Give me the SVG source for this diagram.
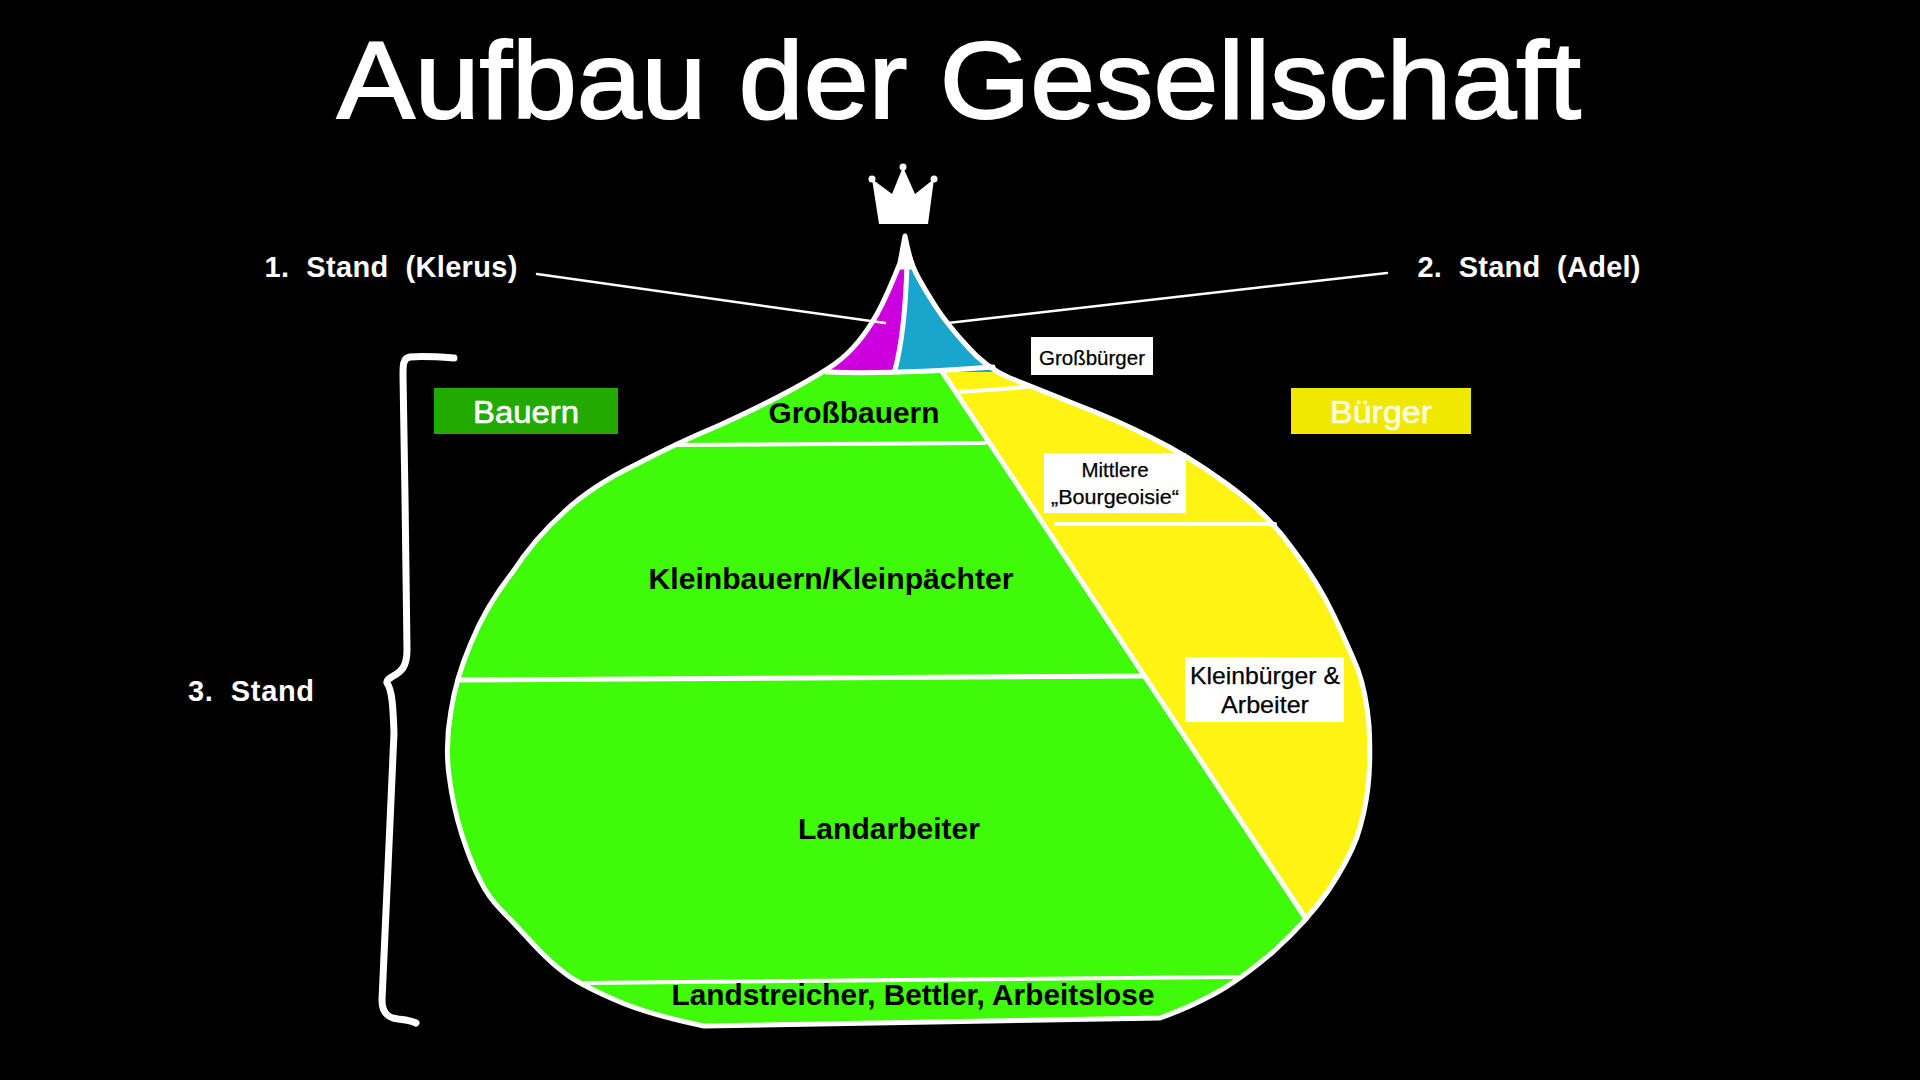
<svg xmlns="http://www.w3.org/2000/svg" width="1920" height="1080" viewBox="0 0 1920 1080">
<style>
text{font-family:"Liberation Sans",Arial,sans-serif;text-anchor:middle}
.w{fill:#fff}
.ln{fill:none;stroke:#fff;stroke-linecap:round;stroke-linejoin:round}
.sec{font-size:29px;font-weight:700;fill:#000}
.side{font-size:29px;font-weight:700;fill:#fff}
.note{fill:#000;stroke:#000;stroke-width:.25}
</style>
<defs>
<path id="outline" d="M905,236 L900,263 Q886,298 877,314 Q868,330 858,342 Q848,354 836,363 Q824,372 793,389 Q762,406 720,425 Q677,443 635,465 Q590,487 563,513 Q535,538 512,573 Q486,606 471,643 Q456,678 451,711 Q445,743 449,775 Q453,807 462,835 Q471,863 480,880 Q488,897 502,911 Q516,925 534,945 Q552,964 566,974 Q579,984 613,999 Q646,1014 704,1026 L1160,1018 Q1188,1008 1214,994 Q1240,980 1274,951 Q1307,921 1328,891 Q1348,861 1357,837 Q1365,813 1368,787 Q1371,760 1369,725 Q1366,692 1358,670 Q1350,650 1334,616 Q1318,582 1292,548 Q1267,513 1227,484 Q1187,455 1152,438 Q1117,420 1075,404 Q1033,387 1010,378 Q986,368 967,346 Q947,324 936,307 Q925,290 918,277 Q910,263 905,236 Z"/>
<clipPath id="inside"><use href="#outline"/></clipPath>
</defs>
<rect width="1920" height="1080" fill="#000"/>
<text id="title" x="959" y="118" class="w" stroke="#fff" stroke-width="2" font-size="109" textLength="1244" lengthAdjust="spacingAndGlyphs">Aufbau der Gesellschaft</text>
<g id="shape" clip-path="url(#inside)">
<rect id="yellow" x="900" y="360" width="500" height="580" fill="#fff313"/>
<path id="green" fill="#3ffb0a" d="M400,372 L943,373 L1307,921 L1307,1040 L400,1040 Z"/>
<path id="magenta" fill="#cc00dd" d="M800,240 L907,240 L907,263 C906,300 903,340 895,372 L800,372 Z"/>
<path id="blue" fill="#1aa5cc" d="M907,240 L1010,240 L1010,372 L895,372 C903,340 906,300 907,263 Z"/>
</g>
<g id="connectors">
<use href="#outline" class="ln" stroke-width="5"/>
<path d="M905,236 L899,268 L911,268 Z" fill="#fff" stroke="#fff" stroke-width="3" stroke-linejoin="round"/>
<path class="ln" stroke-width="5" d="M907,263 C906,300 903,340 895,370"/>
<path class="ln" stroke-width="5" d="M827,372 C880,374 940,371 993,367"/>
<path class="ln" stroke-width="5" d="M943,373 L1306,919"/>
<path class="ln" stroke-width="4" d="M960,392 L1027,387"/>
<path class="ln" stroke-width="4" d="M677,445 L985,443"/>
<path class="ln" stroke-width="5" d="M458,680 L1143,676"/>
<path class="ln" stroke-width="4" d="M1056,524 L1275,524"/>
<path class="ln" stroke-width="4" d="M583,983 L1237,977"/>
<path class="ln" stroke-width="2.5" d="M537,274 L885,323"/>
<path class="ln" stroke-width="2.5" d="M1387,273 L948,323"/>
<path class="ln" stroke-width="7" d="M454,358 C440,357 420,356 410,357 C403,358 403,365 403,375 L405,497 L407,650 C407,668 400,672 395,675 C390,678 386,680 387,683 C392,690 393,705 394,733 L388,867 L382,1000 C382,1015 390,1018 398,1019 C408,1020 412,1021 416,1023"/>
</g>
<g id="crown" fill="#fff">
<path d="M872,179 L879,224 L928,224 L934,179 L915,194 L903,167 L892,194 Z"/>
<circle cx="872" cy="179" r="3.5"/><circle cx="903" cy="167" r="3.5"/><circle cx="934" cy="179" r="3.5"/>
</g>
<g id="stand1"><text x="391" y="277" class="side" textLength="253" lengthAdjust="spacing" xml:space="preserve">1.  Stand  (Klerus)</text></g>
<g id="stand2"><text x="1529" y="277" class="side" textLength="223" lengthAdjust="spacing" xml:space="preserve">2.  Stand  (Adel)</text></g>
<g id="stand3"><text x="251" y="701" class="side" textLength="126" lengthAdjust="spacing" xml:space="preserve">3.  Stand</text></g>
<g id="bauern"><rect x="434" y="388" width="184" height="46" fill="#22aa00"/><text x="526" y="423" class="w" stroke="#fff" stroke-width=".6" font-size="31" textLength="106" lengthAdjust="spacingAndGlyphs">Bauern</text></g>
<g id="buerger"><rect x="1291" y="388" width="180" height="46" fill="#f0e800"/><text x="1381" y="423" fill="#fffde0" stroke="#fffde0" stroke-width=".6" font-size="31" textLength="102" lengthAdjust="spacingAndGlyphs">Bürger</text></g>
<g id="grossbauern"><text x="854" y="423" class="sec" textLength="171" lengthAdjust="spacingAndGlyphs">Großbauern</text></g>
<g id="kleinbauern"><text x="831" y="589" class="sec" textLength="365" lengthAdjust="spacingAndGlyphs">Kleinbauern/Kleinpächter</text></g>
<g id="landarbeiter"><text x="889" y="839" class="sec" textLength="182" lengthAdjust="spacingAndGlyphs">Landarbeiter</text></g>
<g id="landstreicher"><text x="913" y="1005" class="sec" textLength="483" lengthAdjust="spacingAndGlyphs">Landstreicher, Bettler, Arbeitslose</text></g>
<g id="grossbuerger"><rect x="1031" y="337" width="122" height="38" fill="#fff"/><text x="1092" y="365" class="note" font-size="21" textLength="106" lengthAdjust="spacingAndGlyphs">Großbürger</text></g>
<g id="mittlere"><rect x="1044" y="453" width="142" height="60" fill="#fff"/><text x="1115" y="477" class="note" font-size="20.5">Mittlere</text><text x="1115" y="504" class="note" font-size="20.5" textLength="128" lengthAdjust="spacingAndGlyphs">„Bourgeoisie“</text></g>
<g id="kleinbuerger"><rect x="1185" y="657" width="159" height="65" fill="#fff"/><text x="1265" y="684" class="note" font-size="24" textLength="150" lengthAdjust="spacingAndGlyphs">Kleinbürger &amp;</text><text x="1265" y="713" class="note" font-size="24" textLength="88" lengthAdjust="spacingAndGlyphs">Arbeiter</text></g>
</svg>
